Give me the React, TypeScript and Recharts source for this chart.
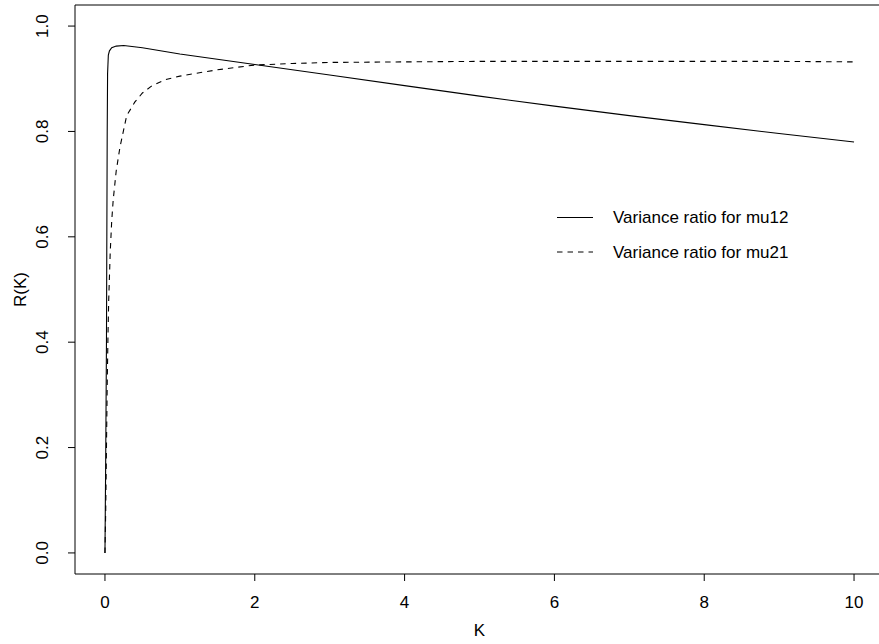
import { LineChart, Line, XAxis, YAxis, ReferenceArea, Legend, Label } from 'recharts';

// K values and variance ratios
const mu12K = [0, 0.01, 0.02, 0.025, 0.03, 0.035, 0.045, 0.06, 0.09, 0.15, 0.25, 0.5, 1, 2, 3, 4, 5, 6, 7, 8, 9, 10];
const mu12R = [0, 0.18, 0.4, 0.6, 0.8, 0.91, 0.945, 0.953, 0.959, 0.962, 0.963, 0.959, 0.947, 0.927, 0.907, 0.887, 0.867, 0.848, 0.83, 0.813, 0.796, 0.78];

const mu21K = [0, 0.01, 0.02, 0.03, 0.04, 0.05, 0.07, 0.09, 0.11, 0.15, 0.2, 0.29, 0.4, 0.5, 0.62, 0.8, 1, 1.2, 1.5, 2, 2.5, 3, 4, 5, 6, 7, 8, 9, 10];
const mu21R = [0, 0.08, 0.2, 0.32, 0.41, 0.48, 0.57, 0.63, 0.67, 0.725, 0.77, 0.83, 0.856, 0.873, 0.886, 0.898, 0.905, 0.91, 0.917, 0.926, 0.929, 0.931, 0.932, 0.933, 0.933, 0.933, 0.933, 0.933, 0.932];

const xTicks = [0, 2, 4, 6, 8, 10];
const yTicks = [0, 0.2, 0.4, 0.6, 0.8, 1.0];
const seriesNames = ['Variance ratio for mu12', 'Variance ratio for mu21'];

const mu12Data = mu12K.map((k, i) => ({ k, r: mu12R[i] }));
const mu21Data = mu21K.map((k, i) => ({ k, r: mu21R[i] }));

const FONT = '"Liberation Sans", Arial, sans-serif';
const FS = 17;

const XTick = ({ x, y, payload }: any) => (
  <text x={x} y={y + 21} textAnchor="middle" dominantBaseline="central" fontFamily={FONT} fontSize={FS} fill="#000">
    {payload.value}
  </text>
);

const YTick = ({ x, y, payload }: any) => {
  const cx = x - 25;
  return (
    <text
      x={cx}
      y={y}
      transform={`rotate(-90, ${cx}, ${y})`}
      textAnchor="middle"
      dominantBaseline="central"
      fontFamily={FONT}
      fontSize={FS}
      fill="#000"
    >
      {Number(payload.value).toFixed(1)}
    </text>
  );
};

// legend drawn like R's legend(..., bty = "n")
const RLegend = () => (
  <svg width={270} height={70} style={{ display: 'block' }}>
    <line x1={7} x2={43} y1={17.5} y2={17.5} stroke="#000" strokeWidth={1} />
    <text x={63} y={17.5} dominantBaseline="central" fontFamily={FONT} fontSize={FS} fill="#000">
      {seriesNames[0]}
    </text>
    <line x1={7} x2={43} y1={52} y2={52} stroke="#000" strokeWidth={1} strokeDasharray="5.5 5" />
    <text x={63} y={52} dominantBaseline="central" fontFamily={FONT} fontSize={FS} fill="#000">
      {seriesNames[1]}
    </text>
  </svg>
);

export default function App() {
  return (
    <div style={{ position: 'absolute', left: 0, top: 0, width: 879, height: 644, overflow: 'hidden', background: '#fff' }}>
      <LineChart width={884} height={644} margin={{ top: 5, right: 0, bottom: 0, left: 0 }}>
        <XAxis
          dataKey="k"
          type="number"
          domain={[-0.4, 10.4]}
          ticks={xTicks}
          allowDataOverflow
          axisLine={false}
          tickLine={{ stroke: '#000', strokeWidth: 1 }}
          tickSize={7}
          tickMargin={0}
          tick={<XTick />}
          height={70}
        >
          <Label
            content={() => (
              <text x={479.5} y={630} textAnchor="middle" dominantBaseline="central" fontFamily={FONT} fontSize={FS} fill="#000">
                K
              </text>
            )}
          />
        </XAxis>
        <YAxis
          dataKey="r"
          type="number"
          domain={[-0.04, 1.04]}
          ticks={yTicks}
          allowDataOverflow
          axisLine={false}
          tickLine={{ stroke: '#000', strokeWidth: 1 }}
          tickSize={7}
          tickMargin={0}
          tick={<YTick />}
          width={75}
        >
          <Label
            content={() => (
              <text
                x={20}
                y={289.5}
                transform="rotate(-90, 20, 289.5)"
                textAnchor="middle"
                dominantBaseline="central"
                fontFamily={FONT}
                fontSize={FS}
                fill="#000"
              >
                R(K)
              </text>
            )}
          />
        </YAxis>
        <ReferenceArea x1={-0.4} x2={10.4} y1={-0.04} y2={1.04} stroke="#000" strokeWidth={1} fill="none" fillOpacity={0} />
        <Line
          data={mu12Data}
          dataKey="r"
          name={seriesNames[0]}
          type="linear"
          stroke="#000"
          strokeWidth={1.1}
          dot={false}
          isAnimationActive={false}
        />
        <Line
          data={mu21Data}
          dataKey="r"
          name={seriesNames[1]}
          type="linear"
          stroke="#000"
          strokeWidth={1.1}
          strokeDasharray="5.5 5"
          dot={false}
          isAnimationActive={false}
        />
        <Legend
          layout="horizontal"
          verticalAlign="middle"
          align="center"
          content={<RLegend />}
          wrapperStyle={{ position: 'absolute', left: 550, top: 200, width: 270, height: 70 }}
        />
      </LineChart>
    </div>
  );
}
